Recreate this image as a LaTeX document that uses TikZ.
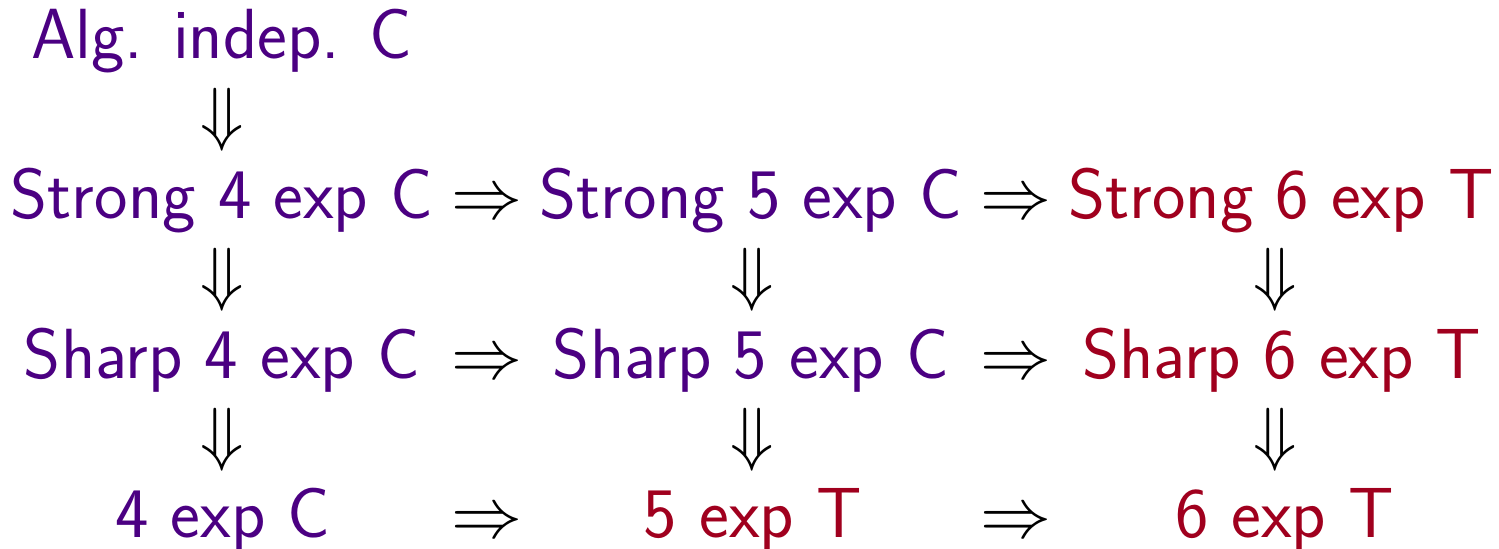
\RequirePackage{fix-cm}
\documentclass[tikz,border=0pt]{standalone}
\usepackage{fontspec}
\definecolor{cpurple}{RGB}{75,0,130}
\definecolor{cred}{RGB}{160,0,30}
\begin{document}
\begin{tikzpicture}[x=0.5pt,y=-0.5pt,
  every node/.style={inner sep=0pt,outer sep=0pt,anchor=base,font=\fontsize{35.5}{42}\selectfont\sffamily},
  pc/.style={text=cpurple},
  rc/.style={text=cred},
  arr/.style={text=black}]
\useasboundingbox (0,0) rectangle (1499,548);
% row 1
\node[pc] (alg) at (222,58) {Alg. indep. C};
\node[arr] (d0) at (222,137) {$\Downarrow$};
% row 2
\node[pc] (s4) at (222,218) {Strong 4 exp C};
\node[arr] (r1) at (487,218) {$\Rightarrow$};
\node[pc] (s5) at (751,218) {Strong 5 exp C};
\node[arr] (r2) at (1016,218) {$\Rightarrow$};
\node[rc] (s6) at (1281,218) {Strong 6 exp T};
% down arrows
\node[arr] (d1) at (222,297) {$\Downarrow$};
\node[arr] (d2) at (752,297) {$\Downarrow$};
\node[arr] (d3) at (1275,297) {$\Downarrow$};
% row 3
\node[pc] (h4) at (222,378) {Sharp 4 exp C};
\node[arr] (r3) at (487,378) {$\Rightarrow$};
\node[pc] (h5) at (751,378) {Sharp 5 exp C};
\node[arr] (r4) at (1016,378) {$\Rightarrow$};
\node[rc] (h6) at (1282,378) {Sharp 6 exp T};
% down arrows
\node[arr] (d4) at (222,457) {$\Downarrow$};
\node[arr] (d5) at (752,457) {$\Downarrow$};
\node[arr] (d6) at (1275,457) {$\Downarrow$};
% row 4
\node[pc] (e4) at (223,537) {4 exp C};
\node[arr] (r5) at (487,537) {$\Rightarrow$};
\node[rc] (e5) at (753,537) {5 exp T};
\node[arr] (r6) at (1016,537) {$\Rightarrow$};
\node[rc] (e6) at (1285,537) {6 exp T};
\end{tikzpicture}
\end{document}
